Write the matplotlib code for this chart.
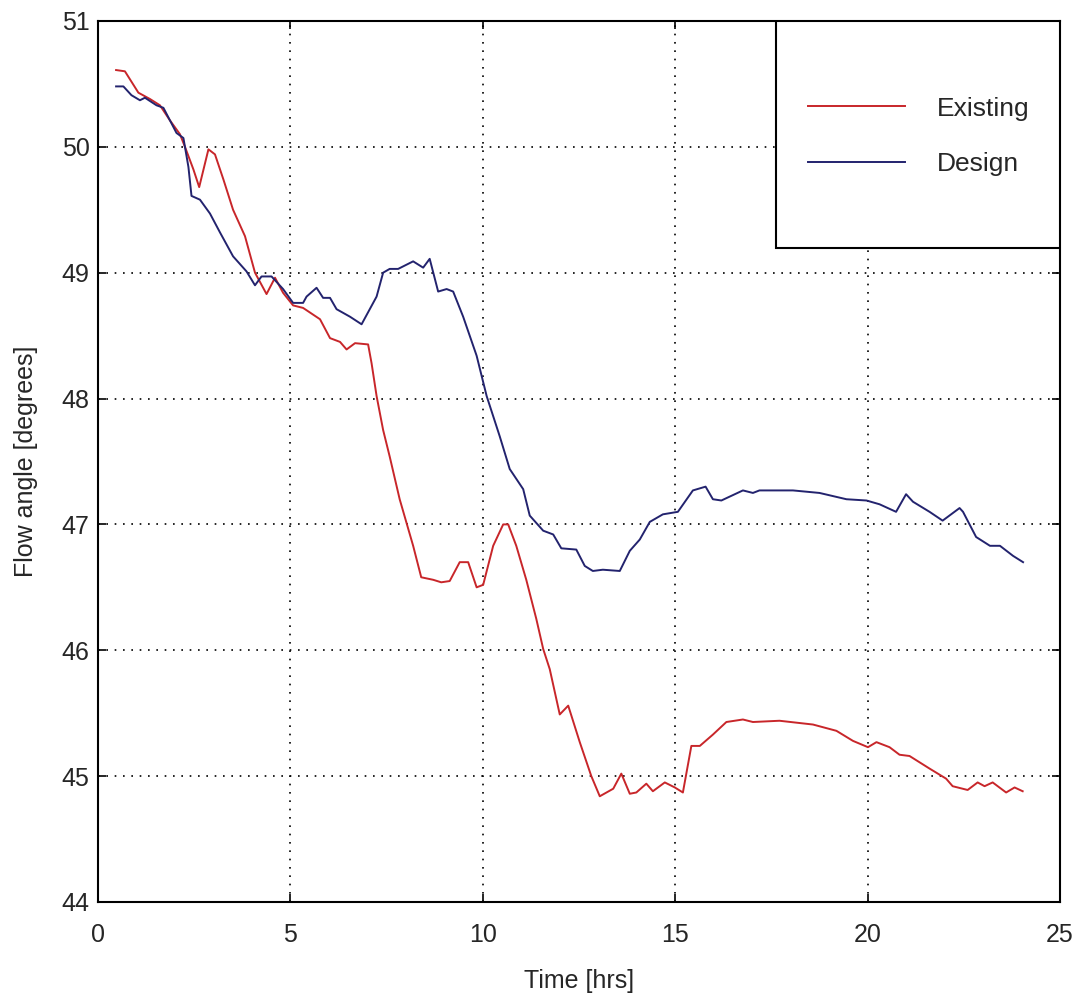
import matplotlib.pyplot as plt
from matplotlib.patches import Rectangle

# Existing case (red)
t_existing = [0.47, 0.70, 1.05, 1.35, 1.61, 1.87, 2.13, 2.26, 2.48, 2.63, 2.87, 3.04, 3.26,
              3.51, 3.82, 4.08, 4.38, 4.60, 4.81, 5.07, 5.33, 5.77, 6.03, 6.29, 6.46, 6.68,
              7.02, 7.11, 7.24, 7.41, 7.58, 7.84, 8.19, 8.40, 8.71, 8.92, 9.14, 9.40, 9.62,
              9.84, 10.01, 10.27, 10.53, 10.66, 10.87, 11.13, 11.39, 11.57, 11.74, 12.00,
              12.22, 12.52, 12.82, 13.04, 13.39, 13.60, 13.82, 13.99, 14.25, 14.42, 14.73,
              14.99, 15.20, 15.42, 15.64, 15.98, 16.33, 16.76, 17.02, 17.71, 18.58, 19.19,
              19.62, 20.01, 20.23, 20.57, 20.83, 21.09, 21.61, 22.04, 22.21, 22.60, 22.86,
              23.04, 23.25, 23.60, 23.82, 24.03]
existing = [50.61, 50.60, 50.43, 50.38, 50.33, 50.21, 50.10, 50.00, 49.82, 49.68, 49.98, 49.94,
            49.74, 49.50, 49.29, 49.00, 48.83, 48.96, 48.84, 48.74, 48.72, 48.63, 48.48, 48.45,
            48.39, 48.44, 48.43, 48.28, 48.02, 47.75, 47.54, 47.20, 46.83, 46.58, 46.56, 46.54,
            46.55, 46.70, 46.70, 46.50, 46.52, 46.83, 47.00, 47.00, 46.83, 46.56, 46.25, 46.01,
            45.85, 45.49, 45.56, 45.27, 45.00, 44.84, 44.90, 45.02, 44.86, 44.87, 44.94, 44.88,
            44.95, 44.91, 44.87, 45.24, 45.24, 45.33, 45.43, 45.45, 45.43, 45.44, 45.41, 45.36,
            45.28, 45.23, 45.27, 45.23, 45.17, 45.16, 45.06, 44.98, 44.92, 44.89, 44.95, 44.92,
            44.95, 44.87, 44.91, 44.88]

# Design case (blue)
t_design = [0.47, 0.66, 0.87, 1.09, 1.22, 1.52, 1.70, 2.04, 2.22, 2.35, 2.43, 2.65, 2.91, 3.17,
            3.51, 3.86, 4.08, 4.25, 4.51, 4.81, 5.07, 5.33, 5.42, 5.68, 5.85, 6.03, 6.20, 6.55,
            6.85, 7.24, 7.41, 7.58, 7.80, 8.19, 8.45, 8.62, 8.84, 9.06, 9.23, 9.49, 9.84, 10.10,
            10.44, 10.70, 11.05, 11.22, 11.57, 11.83, 12.04, 12.43, 12.65, 12.86, 13.12, 13.56,
            13.82, 14.08, 14.34, 14.68, 15.07, 15.46, 15.79, 15.98, 16.20, 16.76, 17.02, 17.19,
            18.06, 18.75, 19.45, 19.97, 20.31, 20.74, 21.00, 21.18, 21.61, 21.95, 22.39, 22.48,
            22.82, 23.18, 23.44, 23.78, 24.04]
design = [50.48, 50.48, 50.41, 50.37, 50.39, 50.33, 50.31, 50.11, 50.07, 49.84, 49.61, 49.58,
          49.47, 49.32, 49.13, 49.01, 48.90, 48.97, 48.97, 48.87, 48.76, 48.76, 48.81, 48.88,
          48.80, 48.80, 48.71, 48.65, 48.59, 48.81, 49.00, 49.03, 49.03, 49.09, 49.04, 49.11,
          48.85, 48.87, 48.85, 48.65, 48.34, 48.02, 47.70, 47.44, 47.28, 47.07, 46.95, 46.92,
          46.81, 46.80, 46.67, 46.63, 46.64, 46.63, 46.79, 46.88, 47.02, 47.08, 47.10, 47.27,
          47.30, 47.20, 47.19, 47.27, 47.25, 47.27, 47.27, 47.25, 47.20, 47.19, 47.16, 47.10,
          47.24, 47.18, 47.10, 47.03, 47.13, 47.10, 46.90, 46.83, 46.83, 46.75, 46.70]

labels = ["Existing", "Design"]

plt.rcParams['font.family'] = ['Liberation Sans', 'DejaVu Sans']

fig = plt.figure(figsize=(10.78, 9.98), dpi=100)
ax = fig.add_axes([0.0909, 0.0962, 0.8924, 0.8828])

ax.plot(t_existing, existing, color='#c8262a', lw=1.4, label=labels[0])
ax.plot(t_design, design, color='#23236e', lw=1.4, label=labels[1])

ax.set_xlim(0, 25)
ax.set_ylim(44, 51)
ax.set_xticks(range(0, 26, 5))
ax.set_yticks(range(44, 52))
ax.grid(True, color='black', linestyle=(0, (1, 4)), linewidth=1.2)
ax.tick_params(direction='in', length=6, width=1.2, top=True, right=True,
               labelsize=18, labelcolor='#262626')
ax.tick_params(axis='x', pad=15)
ax.tick_params(axis='y', pad=6)
for s in ax.spines.values():
    s.set_linewidth(1.5)

ax.set_xlabel("Time [hrs]", fontsize=18, labelpad=16, color='#262626')
ax.set_ylabel("Flow angle [degrees]", fontsize=18, labelpad=17, color='#262626')

ax.add_patch(Rectangle((0.705, 0.742), 0.295, 0.258, transform=ax.transAxes,
                       facecolor='white', edgecolor='black', lw=1.5, zorder=5))
leg = ax.legend(loc='center', bbox_to_anchor=(0.853, 0.869), frameon=False, fontsize=19,
                handlelength=3.7, handletextpad=1.2, labelspacing=1.2)
leg.set_zorder(6)
for txt in leg.get_texts():
    txt.set_color('#262626')

fig.savefig("out.png", dpi=100)
